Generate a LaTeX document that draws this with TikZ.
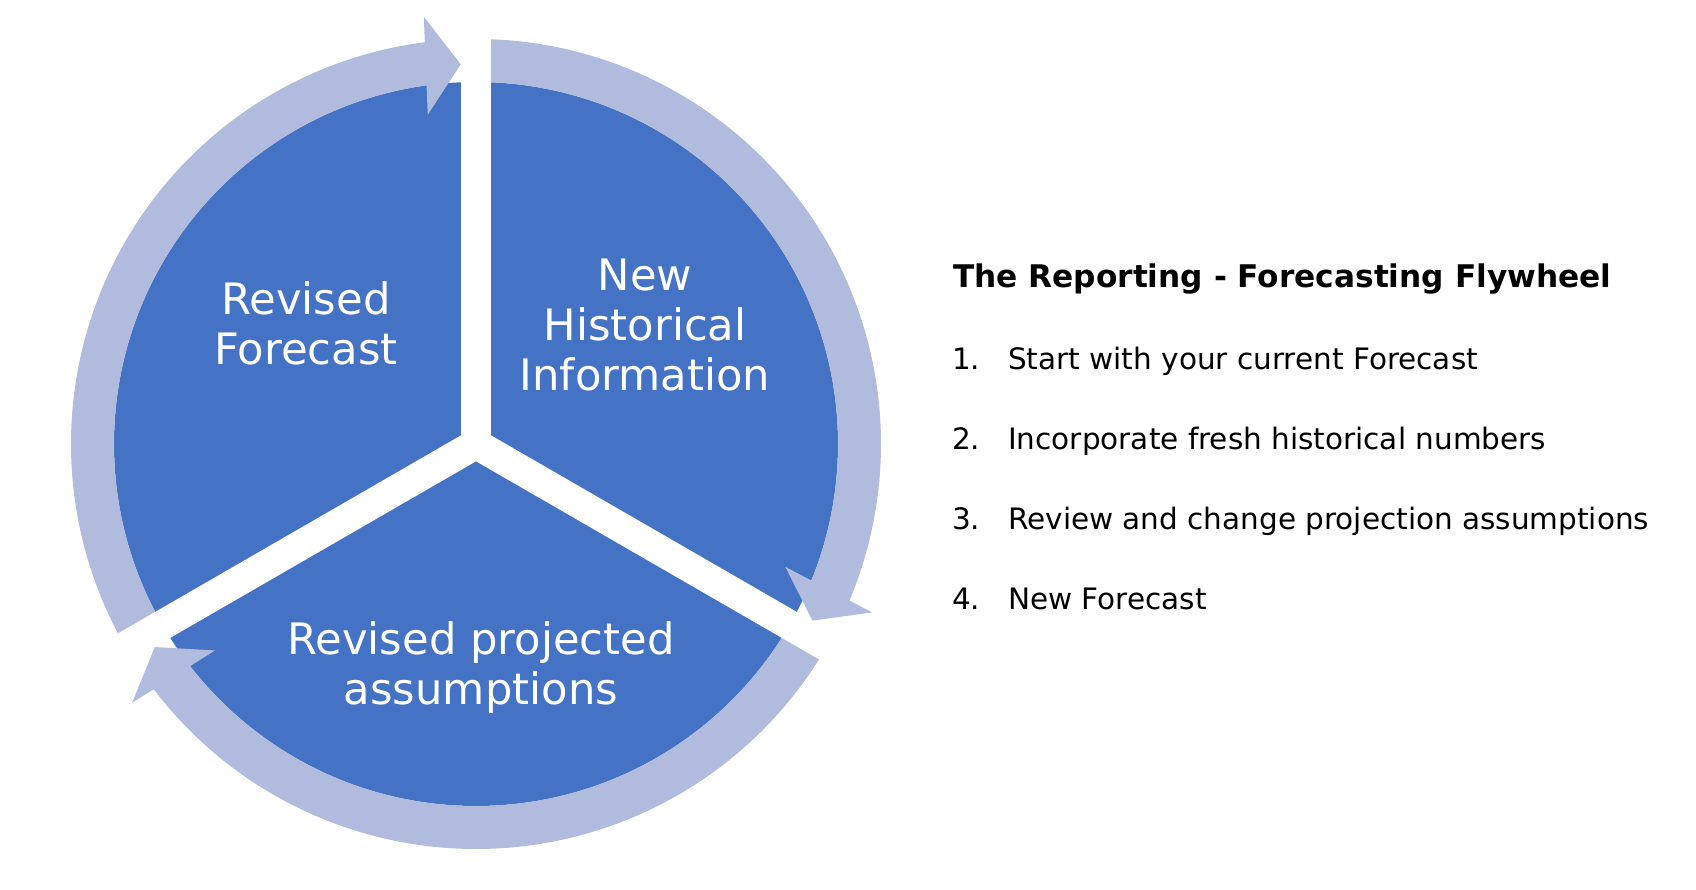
\documentclass[tikz,border=0pt]{standalone}
\usepackage{fontspec}
\setmainfont{DejaVu Sans}
\definecolor{pieblue}{RGB}{68,114,196}
\definecolor{ringblue}{RGB}{176,187,222}
\tikzset{
  ringarrow/.style={fill=ringblue, draw=none},
  gapline/.style={draw=white, line width=30pt},
  wheeltext/.style={text=white, align=center, inner sep=0pt, font=\fontsize{43.3}{50}\selectfont},
  listtext/.style={text=black, anchor=base west, inner sep=0pt, font=\fontsize{29.5}{36}\selectfont},
  titletext/.style={text=black, anchor=base west, inner sep=0pt, font=\fontsize{31.2}{36}\selectfont\bfseries}
}
\begin{document}
\begin{tikzpicture}[x=1pt,y=1pt]
\useasboundingbox (0,0) rectangle (1696,889);
\coordinate (C) at (476,445);
\begin{scope}[shift={(C)}]
  % pie disc
  \fill[pieblue] (0,0) circle[radius=362];
  % ring arrows (clockwise)
  \fill[ringarrow] (210:405) arc[start angle=210, end angle=97.26, radius=405]
     -- (96.96:430.4) -- (92.3:380) -- (98.34:332.8) -- (97.85:362)
     arc[start angle=97.85, end angle=210, radius=362] -- cycle;
  \fill[ringarrow] (90:405) arc[start angle=90, end angle=-22.74, radius=405]
     -- (-23.04:430.4) -- (-27.7:380) -- (-21.66:332.8) -- (-22.15:362)
     arc[start angle=-22.15, end angle=90, radius=362] -- cycle;
  \fill[ringarrow] (330:405) arc[start angle=330, end angle=217.26, radius=405]
     -- (216.96:430.4) -- (212.3:380) -- (218.34:332.8) -- (217.85:362)
     arc[start angle=217.85, end angle=330, radius=362] -- cycle;
  % white Y gaps
  \coordinate (O) at (0,0);
  \coordinate (G1) at (90:470);
  \coordinate (G2) at (210:470);
  \coordinate (G3) at (330:470);
  \draw[gapline] (O) -- (G1);
  \draw[gapline] (O) -- (G2);
  \draw[gapline] (O) -- (G3);
  \fill[white] (O) circle[radius=15];
\end{scope}
% wheel labels
\node[wheeltext] (rf) at (306,566) {Revised\\Forecast};
\node[wheeltext] (nhi) at (645,563.5) {New\\Historical\\Information};
\node[wheeltext] (rpa) at (481,221) {Revised projected\\assumptions};
% right-hand text
\node[titletext] (title) at (953,601) {The Reporting - Forecasting Flywheel};
\node[listtext] (n1) at (952,519) {1.};
\node[listtext] (t1) at (1008,519) {Start with your current Forecast};
\node[listtext] (n2) at (952,439) {2.};
\node[listtext] (t2) at (1008,439) {Incorporate fresh historical numbers};
\node[listtext] (n3) at (952,359) {3.};
\node[listtext] (t3) at (1008,359) {Review and change projection assumptions};
\node[listtext] (n4) at (952,279) {4.};
\node[listtext] (t4) at (1008,279) {New Forecast};
\end{tikzpicture}
\end{document}
